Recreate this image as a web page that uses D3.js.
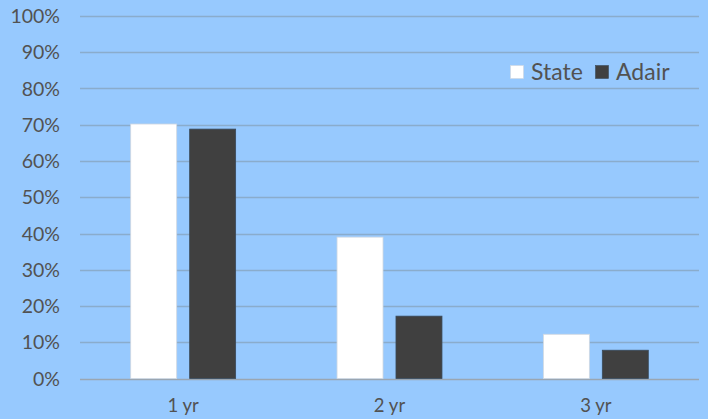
<!DOCTYPE html>
<html><head><meta charset="utf-8">
<script src="https://cdn.jsdelivr.net/npm/d3@7"></script>
<style>html,body{margin:0;padding:0;background:#97c9fe;}svg{display:block;}</style>
</head><body>
<svg id="c" width="708" height="419"></svg>
<script>
const categories = ["1 yr", "2 yr", "3 yr"];
const seriesNames = ["State", "Adair"];
const stateValues = [70.2, 39.0, 12.2];
const adairValues = [68.8, 17.2, 7.8];
const yTicks = [0, 10, 20, 30, 40, 50, 60, 70, 80, 90, 100];

const colors = {State: "#ffffff", Adair: "#404040"};
const FONT = "Lato, 'Open Sans', sans-serif";
const TEXT = "#525252";
const W = 708, H = 419;
const m = {left: 80, right: 9, top: 16, bottom: 40.5};
const svg = d3.select("#c");
svg.append("rect").attr("width", W).attr("height", H).attr("fill", "#97c9fe");

const x = d3.scaleBand().domain(categories).range([m.left, W - m.right]);
const y = d3.scaleLinear().domain([0, 100]).range([H - m.bottom, m.top]);
const xs = d3.scaleBand().domain(seriesNames).range([0, x.bandwidth()]).paddingInner(0.22).paddingOuter(0.86);

// gridlines
svg.append("g").selectAll("line").data(yTicks).join("line")
  .attr("x1", m.left).attr("x2", W - m.right)
  .attr("y1", d => Math.round(y(d)) + 0.5).attr("y2", d => Math.round(y(d)) + 0.5)
  .attr("stroke", d => d === 0 ? "#9aa6b2" : "#8aaccc").attr("stroke-width", 1.3);

// y labels
svg.append("g").selectAll("text").data(yTicks).join("text")
  .attr("x", 60).attr("y", d => y(d)).attr("dy", "0.36em")
  .attr("text-anchor", "end").attr("fill", TEXT)
  .attr("font-family", FONT).attr("font-size", 19.5)
  .text(d => d + "%");

const data = categories.map((c, i) => ({c, vals: [{s: "State", v: stateValues[i]}, {s: "Adair", v: adairValues[i]}]}));
const g = svg.append("g").selectAll("g").data(data).join("g")
  .attr("transform", d => `translate(${x(d.c)},0)`);
g.selectAll("rect").data(d => d.vals).join("rect")
  .attr("x", d => xs(d.s)).attr("width", xs.bandwidth())
  .attr("y", d => y(d.v)).attr("height", d => y(0) - y(d.v))
  .attr("fill", d => colors[d.s])
  .attr("stroke", d => d.s === "State" ? "#d0d8e0" : "#3a4a5a").attr("stroke-width", 0.8);

// x labels
svg.append("g").selectAll("text").data(categories).join("text")
  .attr("x", d => x(d) + x.bandwidth() / 2).attr("y", 411.5)
  .attr("text-anchor", "middle").attr("fill", TEXT)
  .attr("font-family", FONT).attr("font-size", 18.5)
  .text(d => d);

// legend
const leg = svg.append("g");
const legX = [510.5, 595.5];
seriesNames.forEach((s, i) => {
  leg.append("rect").attr("x", legX[i]).attr("y", 65.5).attr("width", 13).attr("height", 13)
    .attr("fill", colors[s]).attr("stroke", s === "State" ? "#d0d8e0" : "#3a4a5a").attr("stroke-width", 0.6);
  leg.append("text").attr("x", legX[i] + 20.5).attr("y", 80)
    .attr("fill", TEXT).attr("font-family", FONT).attr("font-size", 23)
    .text(s);
});
</script>
</body></html>
